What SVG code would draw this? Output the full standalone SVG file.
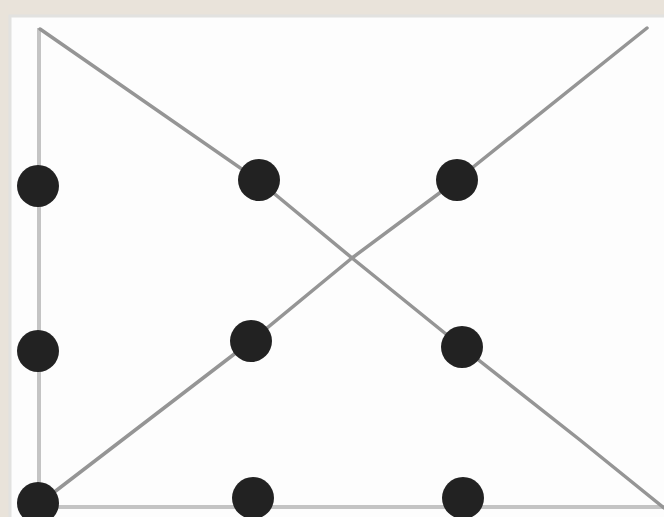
<svg xmlns="http://www.w3.org/2000/svg" width="664" height="517" viewBox="0 0 664 517">
<style>
.bg{fill:#e9e3da}
.panel{fill:#fdfdfd;stroke:#e2e2e0;stroke-width:3}
.ln{fill:none;stroke:#959595;stroke-width:3.5;stroke-linecap:round;stroke-linejoin:round}
.ax{fill:none;stroke:#c4c4c4;stroke-width:4}
.dot{fill:#222222}
</style>
<rect class="bg" x="0" y="0" width="664" height="517"/>
<rect class="panel" x="10" y="16" width="660" height="510"/>
<g id="connectors">
<line class="ax" x1="39" y1="28" x2="39" y2="517"/>
<line class="ax" x1="38" y1="507" x2="664" y2="507"/>
<path class="ln" d="M40,29 L259,181 L352,258 L462,347 L580,440 L664,508"/>
<path class="ln" d="M40,503 L250,342 L352,258 L457,180 L647,28"/>
</g>
<g id="n1"><circle class="dot" cx="38" cy="186" r="21"/></g>
<g id="n2"><circle class="dot" cx="259" cy="180" r="21"/></g>
<g id="n3"><circle class="dot" cx="457" cy="180" r="21"/></g>
<g id="n4"><circle class="dot" cx="38" cy="351" r="21"/></g>
<g id="n5"><circle class="dot" cx="251" cy="341" r="21"/></g>
<g id="n6"><circle class="dot" cx="462" cy="347" r="21"/></g>
<g id="n7"><circle class="dot" cx="38" cy="503" r="21"/></g>
<g id="n8"><circle class="dot" cx="253" cy="498" r="21"/></g>
<g id="n9"><circle class="dot" cx="463" cy="498" r="21"/></g>
</svg>
